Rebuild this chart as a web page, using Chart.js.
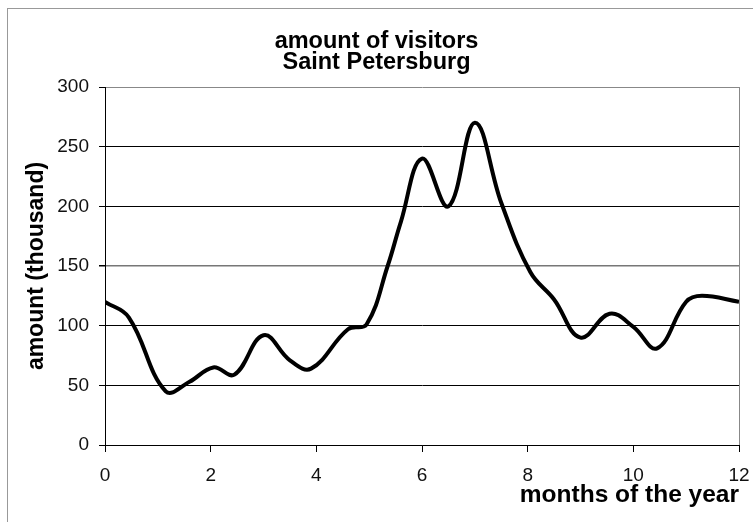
<!DOCTYPE html>
<html>
<head>
<meta charset="utf-8">
<script src="https://cdn.jsdelivr.net/npm/chart.js@4.4.1/dist/chart.umd.min.js"></script>
<style>
    body { margin: 0; background: #fff; }
    #wrap { position: relative; width: 753px; height: 522px; overflow: hidden; }
    #frame { position: absolute; left: 7px; top: 8px; width: 800px; height: 600px;
             border-left: 1px solid #999; border-top: 1px solid #999; pointer-events: none; }
</style>
</head>
<body>
<div id="wrap">
    <canvas id="VisitorsChart" width="753" height="522"></canvas>
    <div id="frame"></div>
</div>
<script>
// months of the year (x) and visitors in thousands (y)
var months   = [0, 0.45, 1.15, 1.6, 2.05, 2.45, 3.0, 3.5, 3.9, 4.6, 4.95, 5.35, 5.6, 6.0, 6.5, 7.0, 7.5, 8.05, 8.5, 9.0, 9.55, 10.0, 10.45, 11.0, 11.3, 12];
var visitors = [120, 107, 45, 53, 65, 59, 92, 71, 64, 97, 101, 150, 187, 240, 200, 270, 203, 145, 122, 90, 110, 99, 81, 120, 125, 120];
var xTicks = [0, 2, 4, 6, 8, 10, 12];
var yTicks = [0, 50, 100, 150, 200, 250, 300];

var points = [];
for (var i in months) {
    points.push({x: months[i], y: visitors[i]});
}

var fontName = "'Liberation Sans', Arial, sans-serif";

var graphTarget = document.getElementById("VisitorsChart");
var lineGraph = new Chart(graphTarget, {
    type: 'line',
    data: {
        datasets: [{
            label: 'visitors',
            data: points,
            borderColor: "#000",
            borderWidth: 4,
            tension: 0.4,
            pointRadius: 0,
            fill: false
        }]
    },
    options: {
        responsive: false,
        animation: false,
        devicePixelRatio: 1,
        layout: { padding: 0 },
        plugins: {
            legend: { display: false },
            tooltip: { enabled: false },
            title: {
                display: true,
                text: ['amount of visitors', 'Saint Petersburg'],
                color: '#000',
                font: { family: fontName, size: 23.5, weight: 'bold', lineHeight: 21 / 23.5 },
                padding: { top: 31, bottom: 14 }
            }
        },
        scales: {
            x: {
                type: 'linear',
                min: 0,
                max: 12,
                afterBuildTicks: function (scale) {
                    scale.ticks = xTicks.map(function (v) { return {value: v}; });
                },
                afterFit: function (scale) {
                    scale.height = 77;
                    scale.paddingLeft = 0;
                    scale.paddingRight = 14;
                },
                border: { color: '#000', width: 1 },
                grid: {
                    drawOnChartArea: true,
                    color: function (ctx) { return ctx.tick && ctx.tick.value === 12 ? '#888' : 'rgba(0,0,0,0)'; },
                    tickColor: '#000',
                    tickLength: 7
                },
                ticks: {
                    color: '#111',
                    padding: 12,
                    font: { family: fontName, size: 19 }
                },
                title: {
                    display: true,
                    text: 'months of the year',
                    align: 'end',
                    color: '#000',
                    font: { family: fontName, size: 24.5, weight: 'bold' },
                    padding: { top: 0, bottom: 12 }
                }
            },
            y: {
                min: 0,
                max: 300,
                afterBuildTicks: function (scale) {
                    scale.ticks = yTicks.map(function (v) { return {value: v}; });
                },
                afterFit: function (scale) { scale.width = 105; },
                border: { color: '#000', width: 1 },
                grid: {
                    color: function (ctx) {
                        if (!ctx.tick) return '#000';
                        if (ctx.tick.value === 300) return '#888';
                        if (ctx.tick.value === 150) return '#777';
                        return '#000';
                    },
                    lineWidth: function (ctx) { return ctx.tick && ctx.tick.value === 150 ? 1.5 : 1; },
                    tickColor: '#000',
                    tickLength: 6
                },
                ticks: {
                    color: '#111',
                    padding: 10,
                    font: { family: fontName, size: 19 }
                },
                title: {
                    display: true,
                    text: 'amount (thousand)',
                    color: '#000',
                    font: { family: fontName, size: 23, weight: 'bold' },
                    padding: { top: 23, bottom: 0 }
                }
            }
        }
    }
});
</script>
</body>
</html>
